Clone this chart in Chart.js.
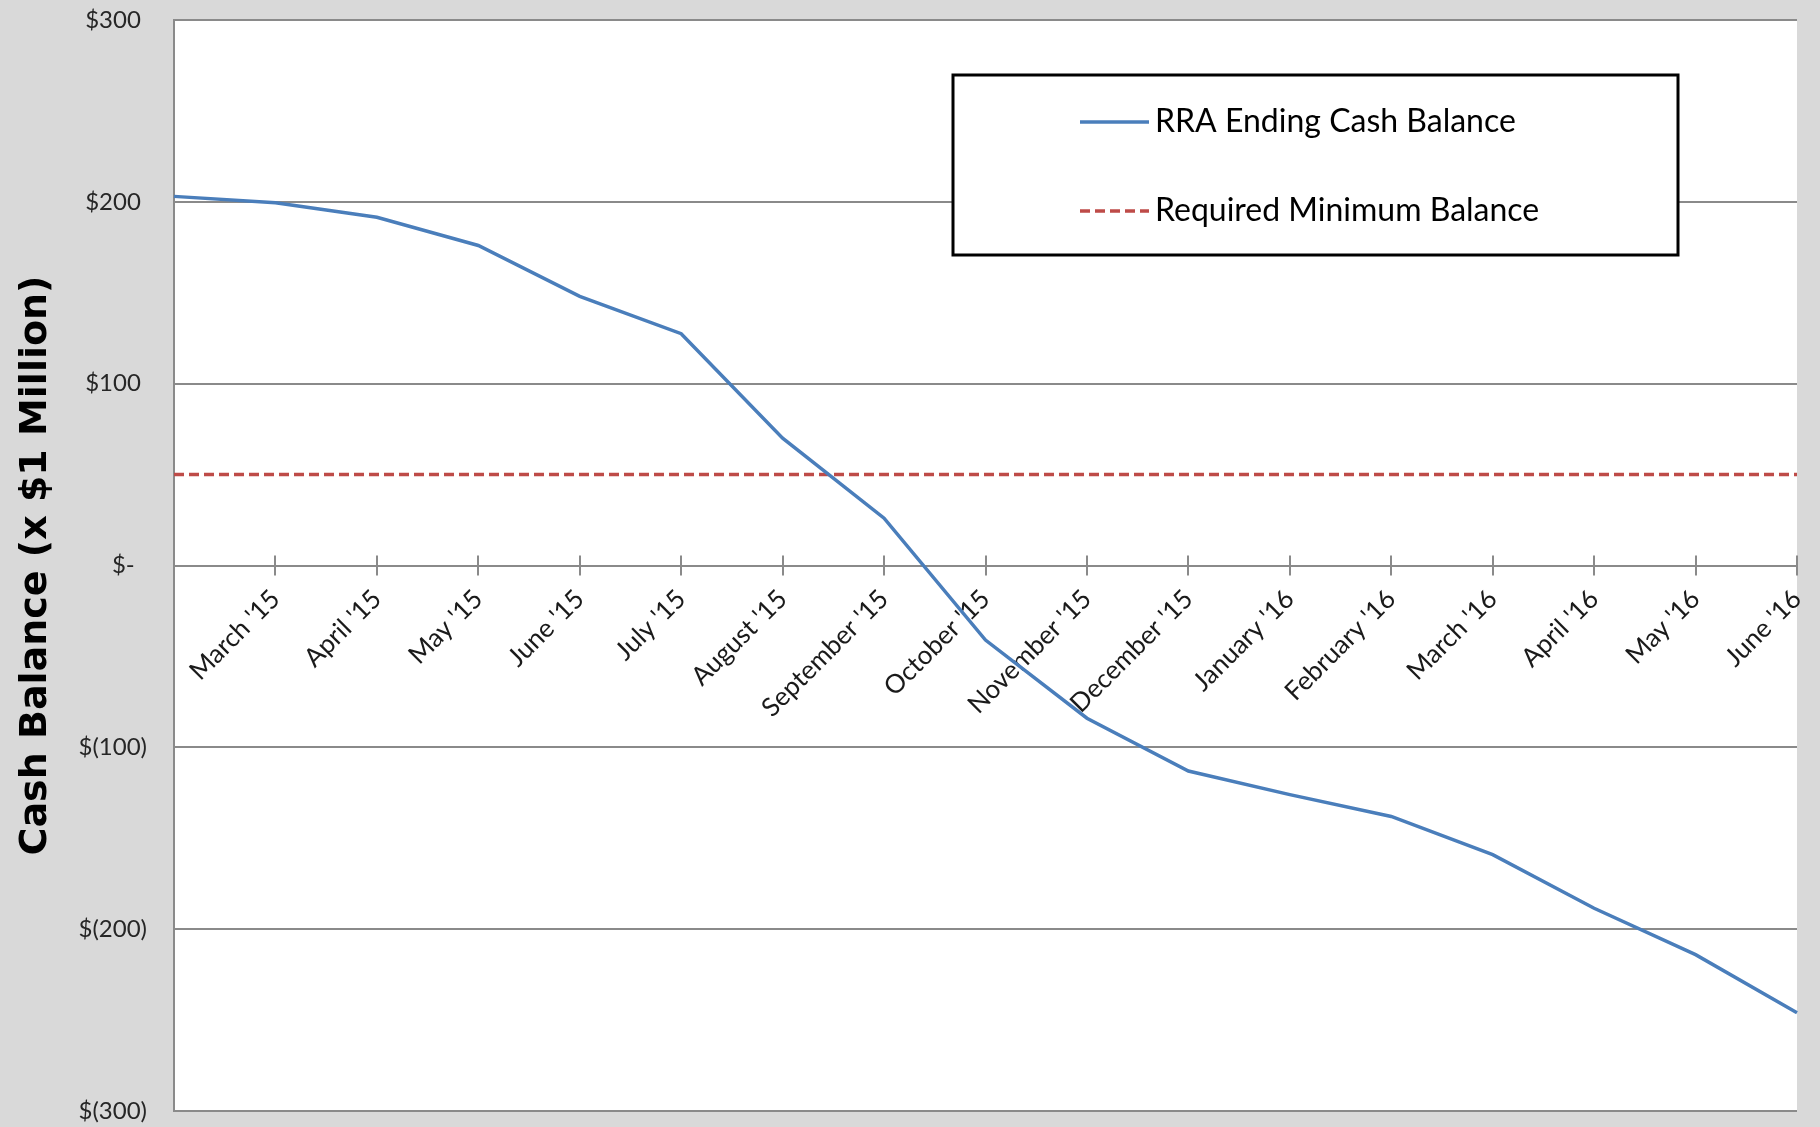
<!DOCTYPE html>
<html lang="en">
    <head>
        <meta charset="UTF-8" />
        <title>RRA Cash Balance</title>
        <script src="https://cdn.jsdelivr.net/npm/chart.js@4.4.1/dist/chart.umd.min.js"></script>
        <style>
            body { margin: 0; background: #D9D9D9; overflow: hidden; }
            #wrapper { width: 1820px; height: 1127px; position: relative; }
        </style>
    </head>
    <body>
        <div id="wrapper">
            <canvas id="canvas"></canvas>
        </div>
        <script>
            // month labels (first point sits on the axis with no label)
            let months = ['', "March '15", "April '15", "May '15", "June '15", "July '15", "August '15",
                "September '15", "October '15", "November '15", "December '15", "January '16",
                "February '16", "March '16", "April '16", "May '16", "June '16"];

            // $ millions
            let endingCash = [203, 199.5, 191.5, 176, 148, 127.5, 70, 26, -41, -84, -113, -126, -138, -159, -188.5, -214, -246];
            let minBalance = [50, 50, 50, 50, 50, 50, 50, 50, 50, 50, 50, 50, 50, 50, 50, 50, 50];

            let yMin = -300;
            let yMax = 300;
            let yStep = 100;

            const gridGray = '#8a8a8a';

            // white plot area on the grey page
            const plotBg = {
                id: 'plotBg',
                beforeDraw(chart) {
                    const a = chart.chartArea;
                    const ctx = chart.ctx;
                    ctx.save();
                    ctx.fillStyle = '#ffffff';
                    ctx.fillRect(a.left, a.top, a.right - a.left, a.bottom - a.top);
                    ctx.restore();
                }
            };

            // excel style "cross" tick marks on the zero line
            const crossTicks = {
                id: 'crossTicks',
                beforeDatasetsDraw(chart) {
                    const x = chart.scales.x;
                    const y0 = chart.scales.y.getPixelForValue(0);
                    const ctx = chart.ctx;
                    ctx.save();
                    ctx.strokeStyle = gridGray;
                    ctx.lineWidth = 2;
                    ctx.beginPath();
                    for (let i = 0; i < x.ticks.length; i++) {
                        const px = Math.round(x.getPixelForTick(i));
                        ctx.moveTo(px, y0 - 10);
                        ctx.lineTo(px, y0 + 10);
                    }
                    ctx.stroke();
                    ctx.restore();
                }
            };

            // boxed legend in the upper right
            const legendBox = {
                id: 'legendBox',
                afterDraw(chart) {
                    const ctx = chart.ctx;
                    ctx.save();
                    ctx.fillStyle = '#ffffff';
                    ctx.fillRect(953, 75, 725, 180);
                    ctx.lineWidth = 3;
                    ctx.strokeStyle = '#000000';
                    ctx.strokeRect(953, 75, 725, 180);
                    chart.data.datasets.forEach(function(ds, i) {
                        const ly = 122 + i * 89;
                        ctx.beginPath();
                        ctx.setLineDash(ds.borderDash || []);
                        ctx.lineWidth = ds.borderWidth;
                        ctx.strokeStyle = ds.borderColor;
                        ctx.moveTo(1080, ly);
                        ctx.lineTo(1149, ly);
                        ctx.stroke();
                        ctx.setLineDash([]);
                        ctx.fillStyle = '#000000';
                        ctx.font = '32px Lato';
                        ctx.textBaseline = 'middle';
                        ctx.textAlign = 'left';
                        ctx.fillText(ds.label, 1155, ly);
                    });
                    ctx.restore();
                }
            };

            let options = {
                type: 'line',
                data: {
                    labels: months,
                    datasets: [{
                        label: 'RRA Ending Cash Balance',
                        data: endingCash,
                        borderColor: '#4A7EBB',
                        borderWidth: 3.5,
                        pointRadius: 0,
                        tension: 0,
                        fill: false
                    }, {
                        label: 'Required Minimum Balance',
                        data: minBalance,
                        borderColor: '#BE4B48',
                        borderWidth: 3.5,
                        borderDash: [10, 5],
                        pointRadius: 0,
                        fill: false
                    }]
                },
                options: {
                    responsive: true,
                    maintainAspectRatio: false,
                    animation: false,
                    layout: {
                        padding: { left: 0, top: 20, right: 23, bottom: 16 }
                    },
                    plugins: {
                        legend: { display: false },
                        tooltip: { enabled: false }
                    },
                    scales: {
                        x: {
                            type: 'category',
                            offset: false,
                            position: { y: 0 },
                            afterFit: function(scale) {
                                scale.paddingLeft = 0;
                                scale.paddingRight = 0;
                            },
                            grid: { display: false, drawTicks: false },
                            border: { display: true, color: gridGray, width: 2 },
                            ticks: {
                                autoSkip: false,
                                minRotation: 45,
                                maxRotation: 45,
                                padding: 18,
                                color: '#1a1a1a',
                                font: { family: 'Lato', size: 26 }
                            }
                        },
                        y: {
                            min: yMin,
                            max: yMax,
                            afterFit: function(scale) {
                                scale.width = 174;
                                scale.paddingTop = 0;
                                scale.paddingBottom = 0;
                            },
                            grid: { color: gridGray, lineWidth: 2, drawTicks: false },
                            border: { display: true, color: gridGray, width: 2 },
                            ticks: {
                                stepSize: yStep,
                                padding: 27,
                                color: '#262626',
                                font: { family: 'Lato', size: 24 },
                                callback: function(v) {
                                    if (v > 0) return '$' + v + ' ';
                                    if (v === 0) return '$-  ';
                                    return '$(' + (-v) + ')';
                                }
                            },
                            title: {
                                display: true,
                                text: 'Cash Balance (x $1 Million)',
                                color: '#000000',
                                padding: { top: 13, bottom: 0 },
                                font: { family: 'DejaVu Sans', size: 38, weight: 'bold', lineHeight: 1.2 }
                            }
                        }
                    }
                },
                plugins: [plotBg, crossTicks, legendBox]
            };

            let chart1 = new Chart(document.getElementById('canvas'), options);
        </script>
    </body>
</html>
